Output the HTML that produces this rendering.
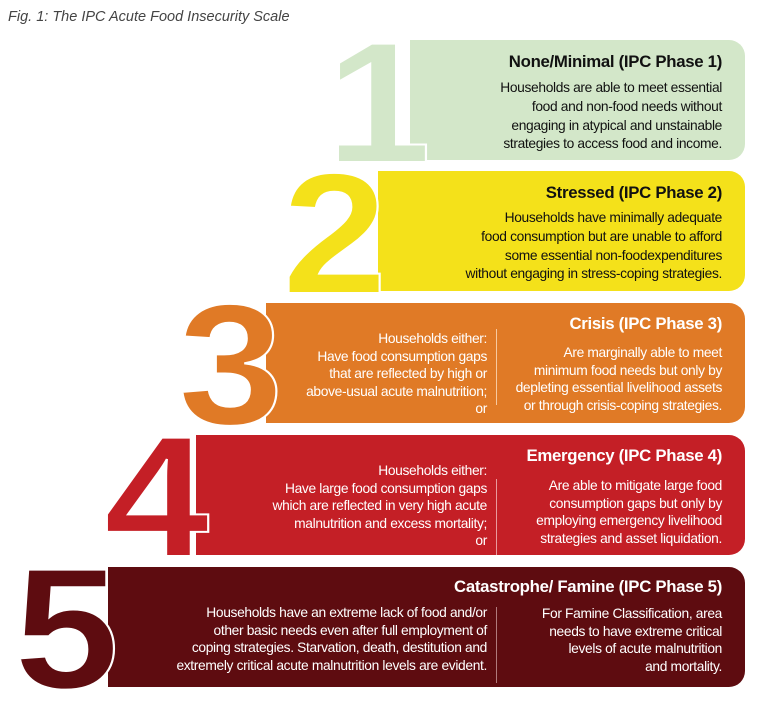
<!DOCTYPE html>
<html><head><meta charset="utf-8"><style>
body{margin:0;width:769px;height:709px;background:#fff;position:relative;overflow:hidden;font-family:"Liberation Sans",sans-serif}
.t{position:absolute;left:8px;top:9px;font-size:14.5px;font-style:italic;color:#444}
.box{position:absolute;right:24px;height:120px;border-radius:0 16px 16px 0}
.col{position:absolute;text-align:right;font-size:13.8px;line-height:17.5px;letter-spacing:-0.35px;white-space:nowrap}
.h{position:absolute;right:23px;font-weight:bold;font-size:16.8px;letter-spacing:-0.3px;white-space:nowrap}
.div{position:absolute;width:1px;top:26px;height:76px}
svg{position:absolute;left:0;top:0;z-index:5}
</style></head><body>
<div class="t">Fig. 1: The IPC Acute Food Insecurity Scale</div>

<div class="box" style="left:410px;top:40px;background:#d3e7c9;color:#111">
<div class="h" style="top:12px">None/Minimal (IPC Phase 1)</div>
<div class="col" style="right:23px;top:39px;line-height:18.8px">Households are able to meet essential<br>food and non-food needs without<br>engaging in atypical and unstainable<br>strategies to access food and income.</div>
</div>

<div class="box" style="left:378px;top:171px;background:#f4e11a;color:#111">
<div class="h" style="top:12px">Stressed (IPC Phase 2)</div>
<div class="col" style="right:23px;top:38px;line-height:18.8px">Households have minimally adequate<br>food consumption but are unable to afford<br>some essential non-foodexpenditures<br>without engaging in stress-coping strategies.</div>
</div>

<div class="box" style="left:266px;top:303px;background:#e07a26;color:#fff">
<div class="h" style="top:11px">Crisis (IPC Phase 3)</div>
<div class="div" style="left:230px;background:#f7c9a0"></div>
<div class="col" style="right:258px;top:27px">Households either:<br>Have food consumption gaps<br>that are reflected by high or<br>above-usual acute malnutrition;<br>or</div>
<div class="col" style="right:23px;top:41px">Are marginally able to meet<br>minimum food needs but only by<br>depleting essential livelihood assets<br>or through crisis-coping strategies.</div>
</div>

<div class="box" style="left:196px;top:435px;background:#c41f26;color:#fff">
<div class="h" style="top:11px">Emergency (IPC Phase 4)</div>
<div class="div" style="left:300px;top:44px;background:#e99a9d"></div>
<div class="col" style="right:258px;top:27px">Households either:<br>Have large food consumption gaps<br>which are reflected in very high acute<br>malnutrition and excess mortality;<br>or</div>
<div class="col" style="right:23px;top:42px">Are able to mitigate large food<br>consumption gaps but only by<br>employing emergency livelihood<br>strategies and asset liquidation.</div>
</div>

<div class="box" style="left:108px;top:567px;background:#5e0c10;color:#fff">
<div class="h" style="top:10px">Catastrophe/ Famine (IPC Phase 5)</div>
<div class="div" style="left:388px;top:40px;background:#b07a7c"></div>
<div class="col" style="right:258px;top:37px">Households have an extreme lack of food and/or<br>other basic needs even after full employment of<br>coping strategies. Starvation, death, destitution and<br>extremely critical acute malnutrition levels are evident.</div>
<div class="col" style="right:23px;top:38px">For Famine Classification, area<br>needs to have extreme critical<br>levels of acute malnutrition<br>and mortality.</div>
</div>

<svg width="769" height="709">
<g font-family="Liberation Sans" font-weight="bold" font-size="172" stroke="#fff" stroke-width="2">
<text transform="translate(326 162) scale(1.1 1)" fill="#d3e7c9">1</text>
<text transform="translate(282 293) scale(1.1 1)" fill="#f4e11a">2</text>
<text transform="translate(178 424) scale(1.1 1)" fill="#e07a26">3</text>
<text transform="translate(104 556) scale(1.1 1)" fill="#c41f26">4</text>
<text transform="translate(14 688) scale(1.1 1)" fill="#5e0c10">5</text>
</g>
</svg>
</body></html>
